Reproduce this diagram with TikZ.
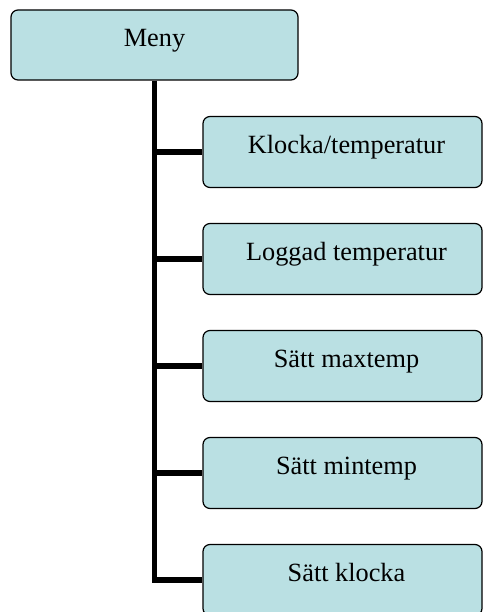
\documentclass[tikz,border=0pt]{standalone}
\usepackage{fontspec}
\setmainfont{Liberation Serif}
\usetikzlibrary{backgrounds}
\definecolor{boxfill}{RGB}{186,224,227}
\tikzset{
  menubox/.style={draw=black, line width=1.2pt, fill=boxfill, rounded corners=7pt,
    minimum width=287pt, minimum height=70pt, inner sep=0pt},
  itembox/.style={draw=black, line width=1.2pt, fill=boxfill, rounded corners=7pt,
    minimum width=279pt, minimum height=71pt, inner sep=0pt},
  lbl/.style={anchor=base, inner sep=0pt, font=\fontsize{26.3pt}{30pt}\selectfont},
  conn/.style={line width=5.3pt, line join=miter, line cap=butt}
}
\begin{document}
\begin{tikzpicture}[x=1pt,y=1pt]
\useasboundingbox (0,0) rectangle (483,612);
\clip (0,0) rectangle (483,612);
\node[menubox] (m) at (154.5,567) {};
\node[lbl] (tm) at (154.5,565.3) {Meny};
\node[itembox] (c1) at (342.5,460) {};
\node[itembox] (c2) at (342.5,353) {};
\node[itembox] (c3) at (342.5,246) {};
\node[itembox] (c4) at (342.5,139) {};
\node[itembox] (c5) at (342.5,32) {};
\node[lbl] (t1) at (346.5,458.5) {Klocka/temperatur};
\node[lbl] (t2) at (346.5,351.5) {Loggad temperatur};
\node[lbl] (t3) at (346.5,244.5) {Sätt maxtemp};
\node[lbl] (t4) at (346.5,137.5) {Sätt mintemp};
\node[lbl] (t5) at (346.5,30.5) {Sätt klocka};
\begin{scope}[on background layer]
\draw[conn] (m.south) -- (m.south |- c5.west) -- (c5.west);
\foreach \i in {1,2,3,4}{
  \draw[conn] (m.south |- c\i.west) -- (c\i.west);
}
\end{scope}
\end{tikzpicture}
\end{document}
